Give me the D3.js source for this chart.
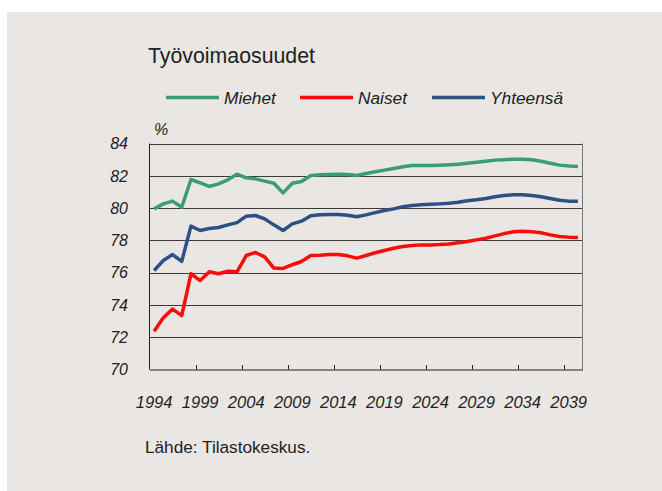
<!DOCTYPE html>
<html>
<head>
<meta charset="utf-8">
<script src="https://cdn.jsdelivr.net/npm/d3@7"></script>
<style>
  body { margin: 0; background: #fff; }
  svg { display: block; }
  text { font-family: "Liberation Sans", Arial, sans-serif; fill: #222; }
</style>
</head>
<body>
<div id="chart"></div>
<script>
// years 1994..2040
var years = d3.range(1994, 2041);
var tickYears = [1994, 1999, 2004, 2009, 2014, 2019, 2024, 2029, 2034, 2039];
var yTicks = [70, 72, 74, 76, 78, 80, 82, 84];

var miehet = [79.95, 80.26, 80.43, 80.05, 81.77, 81.56, 81.34, 81.5, 81.75, 82.1,
  81.87, 81.81, 81.67, 81.54, 80.94, 81.54, 81.65, 82.02, 82.06, 82.08,
  82.1, 82.08, 82.02, 82.14, 82.25, 82.35, 82.45, 82.56, 82.64, 82.64,
  82.64, 82.66, 82.68, 82.72, 82.78, 82.84, 82.9, 82.97, 83.0, 83.03,
  83.03, 82.99, 82.9, 82.78, 82.66, 82.6, 82.58];
var naiset = [72.37, 73.2, 73.74, 73.34, 75.93, 75.51, 76.05, 75.93, 76.09, 76.05,
  77.06, 77.25, 76.98, 76.28, 76.26, 76.49, 76.69, 77.06, 77.08, 77.12,
  77.12, 77.04, 76.9, 77.06, 77.23, 77.37, 77.51, 77.62, 77.68, 77.72,
  77.72, 77.74, 77.78, 77.85, 77.93, 78.03, 78.13, 78.28, 78.42, 78.53,
  78.57, 78.53, 78.47, 78.34, 78.24, 78.2, 78.18];
var yhteensa = [76.13, 76.75, 77.12, 76.7, 78.88, 78.61, 78.73, 78.8, 78.96, 79.1,
  79.5, 79.54, 79.33, 78.96, 78.61, 79.02, 79.19, 79.52, 79.58, 79.6,
  79.6, 79.56, 79.46, 79.58, 79.72, 79.85, 79.95, 80.08, 80.16, 80.2,
  80.23, 80.26, 80.3, 80.36, 80.45, 80.51, 80.59, 80.7, 80.78, 80.82,
  80.82, 80.78, 80.7, 80.59, 80.49, 80.43, 80.43];

var series = [
  {name: "Miehet", values: miehet, color: "#3a9e74"},
  {name: "Naiset", values: naiset, color: "#f70d0a"},
  {name: "Yhteensä", values: yhteensa, color: "#2d5186"}
];

var W = 662, H = 491;
var svg = d3.select("#chart").append("svg")
  .attr("width", W)
  .attr("height", H);

svg.append("rect")
  .attr("x", 7).attr("y", 12)
  .attr("width", W - 7).attr("height", H - 12)
  .attr("fill", "#e9e6e3");

var x = d3.scaleBand()
  .domain(years)
  .range([149.5, 582.5]);
var y = d3.scaleLinear()
  .domain([70, 84])
  .range([369.5, 143.5]);

// gridlines
svg.append("g")
  .selectAll("line")
  .data(yTicks.filter(function(d) { return d > 70; }))
  .enter().append("line")
  .attr("x1", 149.5).attr("x2", 582.5)
  .attr("y1", function(d) { return Math.round(y(d)) + 0.5; })
  .attr("y2", function(d) { return Math.round(y(d)) + 0.5; })
  .attr("stroke", "#3a3a3a")
  .attr("stroke-width", 1);

// right border
svg.append("line")
  .attr("x1", 582.5).attr("x2", 582.5)
  .attr("y1", 143.5).attr("y2", 369.5)
  .attr("stroke", "#777")
  .attr("stroke-width", 1);

// left axis
svg.append("line")
  .attr("x1", 149.5).attr("x2", 149.5)
  .attr("y1", 143.5).attr("y2", 369.5)
  .attr("stroke", "#222");

// y labels
svg.append("g")
  .selectAll("text")
  .data(yTicks)
  .enter().append("text")
  .attr("x", 128)
  .attr("y", function(d) { return y(d); })
  .attr("dy", "0.36em")
  .attr("text-anchor", "end")
  .attr("font-size", 16)
  .attr("font-style", "italic")
  .text(function(d) { return d; });

svg.append("text")
  .attr("x", 154).attr("y", 135)
  .attr("font-size", 16)
  .attr("font-style", "italic")
  .text("%");

// x axis
var xAxis = d3.axisBottom(x)
  .tickValues([])
  .tickSizeOuter(0);
svg.append("g")
  .attr("transform", "translate(0,369.5)")
  .call(xAxis)
  .select(".domain").attr("stroke", "#222");

var boundaries = years.filter(function(d, i) { return i > 0 && i % 5 === 0; });
svg.append("g")
  .selectAll("line")
  .data(boundaries)
  .enter().append("line")
  .attr("x1", function(d) { return Math.round(x(d)) + 0.5; })
  .attr("x2", function(d) { return Math.round(x(d)) + 0.5; })
  .attr("y1", 369.5).attr("y2", 365)
  .attr("stroke", "#222");

svg.append("g")
  .selectAll("text")
  .data(tickYears)
  .enter().append("text")
  .attr("x", function(d) { return x(d) + x.bandwidth() / 2; })
  .attr("y", 408)
  .attr("text-anchor", "middle")
  .attr("font-size", 16.5)
  .attr("font-style", "italic")
  .text(function(d) { return d; });

// lines
var line = d3.line()
  .x(function(d, i) { return x(years[i]) + x.bandwidth() / 2; })
  .y(function(d) { return y(d); });

svg.append("g")
  .selectAll("path")
  .data(series)
  .enter().append("path")
  .attr("d", function(d) { return line(d.values); })
  .attr("fill", "none")
  .attr("stroke", function(d) { return d.color; })
  .attr("stroke-width", 3.5)
  .attr("stroke-linejoin", "round");

// title
svg.append("text")
  .attr("x", 148).attr("y", 63)
  .attr("font-size", 21.3)
  .text("Työvoimaosuudet");

// legend
var legX = [166, 300, 432];
var leg = svg.append("g")
  .selectAll("g")
  .data(series)
  .enter().append("g")
  .attr("transform", function(d, i) { return "translate(" + legX[i] + ",97.5)"; });
leg.append("line")
  .attr("x1", 0).attr("x2", 53)
  .attr("stroke", function(d) { return d.color; })
  .attr("stroke-width", 3.5);
leg.append("text")
  .attr("x", 58)
  .attr("dy", "0.36em")
  .attr("font-size", 17.3)
  .attr("font-style", "italic")
  .text(function(d) { return d.name; });

// source
svg.append("text")
  .attr("x", 145).attr("y", 453)
  .attr("font-size", 17.2)
  .text("Lähde: Tilastokeskus.");
</script>
</body>
</html>
